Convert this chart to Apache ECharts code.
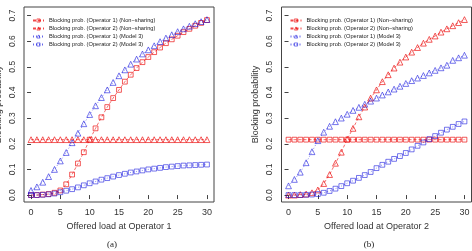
<!DOCTYPE html>
<html><head><meta charset="utf-8">
<script src="https://cdn.jsdelivr.net/npm/echarts@6/dist/echarts.min.js"></script>
<style>html,body{margin:0;padding:0;background:#fff}#c{width:472px;height:251px}</style>
</head><body><div id="c"></div>
<script>
var loads = [0,1,2,3,4,5,6,7,8,9,10,11,12,13,14,15,16,17,18,19,20,21,22,23,24,25,26,27,28,29,30];
var xTicks = [0,5,10,15,20,25,30];
var yTicks = [0,0.1,0.2,0.3,0.4,0.5,0.6,0.7];
var names = ['Blocking prob. (Operator 1) (Non\u2212sharing)','Blocking prob. (Operator 2) (Non\u2212sharing)','Blocking prob. (Operator 1) (Model 3)','Blocking prob. (Operator 2) (Model 3)'];
var xTitles = ['Offered load at Operator 1','Offered load at Operator 2'];
var yTitle = 'Blocking probability';
var captions = ['(a)','(b)'];

// panel (a)
var a_op1_ns = [0.000,0.000,0.002,0.004,0.009,0.018,0.042,0.080,0.123,0.167,0.216,0.260,0.303,0.343,0.378,0.410,0.442,0.469,0.495,0.518,0.538,0.557,0.575,0.592,0.607,0.621,0.635,0.648,0.660,0.671,0.682];
var a_op2_ns = [0.216,0.216,0.216,0.216,0.216,0.216,0.216,0.216,0.216,0.216,0.216,0.216,0.216,0.216,0.216,0.216,0.216,0.216,0.216,0.216,0.216,0.216,0.216,0.216,0.216,0.216,0.216,0.216,0.216,0.216,0.216];
var a_op1_m3 = [0.018,0.032,0.050,0.072,0.100,0.133,0.166,0.204,0.241,0.278,0.314,0.348,0.380,0.410,0.439,0.465,0.488,0.510,0.530,0.550,0.566,0.582,0.598,0.612,0.625,0.637,0.648,0.658,0.668,0.676,0.684];
var a_op2_m3 = [0.000,0.000,0.001,0.003,0.006,0.011,0.017,0.023,0.030,0.038,0.046,0.053,0.060,0.066,0.072,0.078,0.083,0.088,0.092,0.096,0.100,0.103,0.106,0.109,0.111,0.113,0.115,0.116,0.117,0.118,0.119];
// panel (b)
var b_op1_ns = [0.216,0.216,0.216,0.216,0.216,0.216,0.216,0.216,0.216,0.216,0.216,0.216,0.216,0.216,0.216,0.216,0.216,0.216,0.216,0.216,0.216,0.216,0.216,0.216,0.216,0.216,0.216,0.216,0.216,0.216,0.216];
var b_op2_ns = [0.000,0.000,0.002,0.004,0.009,0.020,0.045,0.080,0.124,0.167,0.218,0.260,0.305,0.343,0.378,0.410,0.442,0.469,0.495,0.518,0.538,0.557,0.575,0.592,0.607,0.620,0.635,0.648,0.660,0.672,0.684];
var b_op1_m3 = [0.036,0.061,0.089,0.126,0.169,0.212,0.245,0.268,0.286,0.300,0.315,0.330,0.342,0.354,0.366,0.378,0.390,0.402,0.413,0.424,0.435,0.446,0.456,0.466,0.476,0.486,0.496,0.506,0.525,0.535,0.545];
var b_op2_m3 = [0.000,0.000,0.000,0.001,0.002,0.004,0.009,0.016,0.025,0.035,0.046,0.056,0.067,0.078,0.090,0.105,0.118,0.130,0.141,0.152,0.164,0.178,0.192,0.205,0.218,0.230,0.243,0.255,0.266,0.277,0.287];

var RED = 'rgba(235,0,0,0.72)';
var BLUE = 'rgba(0,0,220,0.6)';
var styles = [
  {color: RED, symbol: 'rect', size: 4.8, dash: [3,2]},
  {color: RED, symbol: 'triangle', size: 5.8, dash: [3,2]},
  {color: BLUE, symbol: 'triangle', size: 5.8, dash: [1,2]},
  {color: BLUE, symbol: 'rect', size: 4.8, dash: [1,2]}
];
var panels = [[a_op1_ns,a_op2_ns,a_op1_m3,a_op2_m3],[b_op1_ns,b_op2_ns,b_op1_m3,b_op2_m3]];
var gridLefts = [24, 281.5];
var FONT = 'Liberation Sans';

function pairs(vals){ return loads.map(function(x,i){ return [x, vals[i]]; }); }

var legendData = names.map(function(n, j){
  return {name: n, itemStyle: {color: 'rgba(255,255,255,0)', borderColor: styles[j].color, borderWidth: 0.8}};
});

var grids=[], xAxes=[], yAxes=[], series=[], legends=[];
panels.forEach(function(p, k){
  grids.push({left: gridLefts[k], top: 7, width: 190, height: 195, outerBoundsMode: 'none', containLabel: false,
    show: true, borderColor: '#444', borderWidth: 1, backgroundColor: 'transparent'});
  xAxes.push({type: 'value', gridIndex: k, min: -1.2, max: 31.2,
    axisLine: {show: false}, splitLine: {show: false},
    axisTick: {show: true, inside: false, length: 4, customValues: xTicks, lineStyle: {color: '#444'}},
    axisLabel: {customValues: xTicks, margin: 6, fontSize: 9, color: '#333', fontFamily: FONT},
    name: xTitles[k], nameLocation: 'middle', nameGap: 19, nameTextStyle: {fontSize: 9, color: '#333', fontFamily: FONT}});
  yAxes.push({type: 'value', gridIndex: k, min: -0.027, max: 0.733,
    axisLine: {show: false}, splitLine: {show: false},
    axisTick: {show: true, inside: false, length: 4, customValues: yTicks, lineStyle: {color: '#444'}},
    axisLabel: {customValues: yTicks, rotate: 90, margin: 7, fontSize: 8.5, color: '#333', fontFamily: FONT,
      formatter: function(v){ return v.toFixed(1); }},
    name: yTitle, nameLocation: 'middle', nameGap: 21, nameTextStyle: {fontSize: 9, color: '#333', fontFamily: FONT}});
  p.forEach(function(vals, j){
    var s = styles[j];
    series.push({type: 'line', name: names[j], xAxisIndex: k, yAxisIndex: k, data: pairs(vals),
      symbol: s.symbol, symbolSize: s.size, showAllSymbol: true,
      lineStyle: {color: s.color, width: 0.8, type: s.dash},
      itemStyle: {color: 'rgba(255,255,255,0)', borderColor: s.color, borderWidth: 0.9},
      emphasis: {disabled: true}, z: 2 + j});
  });
  legends.push({show: true, data: legendData, orient: 'vertical', left: gridLefts[k] + 8, top: 17.5, padding: 0,
    itemWidth: 11, itemHeight: 4, itemGap: 2, selectedMode: false,
    textStyle: {fontSize: 5.7, lineHeight: 5, color: '#222', fontFamily: FONT}});
});

var chart = echarts.init(document.getElementById('c'), null, {renderer: 'canvas'});
chart.setOption({animation: false, grid: grids, xAxis: xAxes, yAxis: yAxes, series: series, legend: legends,
  graphic: [
    {type: 'text', x: 112, y: 245, style: {text: captions[0], font: '9px "Liberation Serif"', fill: '#222', textAlign: 'center', textVerticalAlign: 'middle'}},
    {type: 'text', x: 369, y: 245, style: {text: captions[1], font: '9px "Liberation Serif"', fill: '#222', textAlign: 'center', textVerticalAlign: 'middle'}}
  ]});
</script></body></html>
